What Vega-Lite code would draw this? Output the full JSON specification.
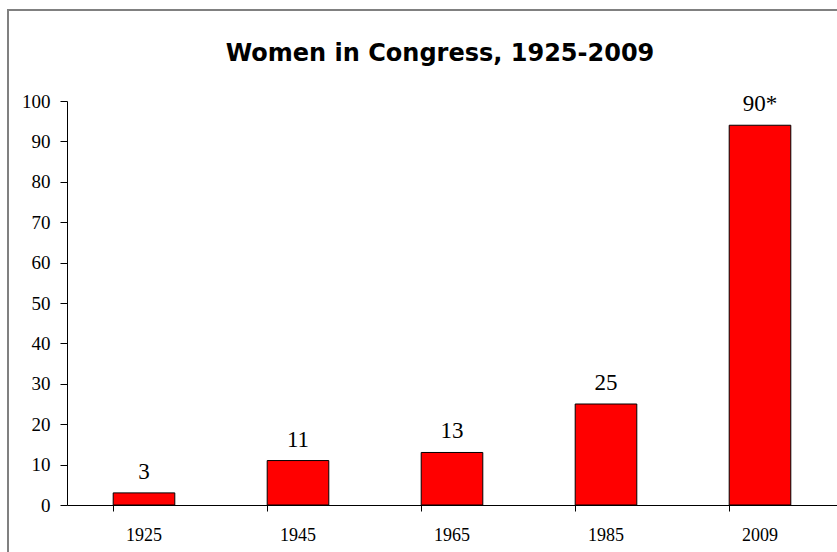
{
  "$schema": "https://vega.github.io/schema/vega-lite/v6.json",
  "width": 840,
  "height": 560,
  "autosize": {"type": "none"},
  "padding": {"left": 8, "top": 10, "right": 0, "bottom": 0},
  "background": "white",
  "title": {
    "text": "Women in Congress, 1925-2009",
    "font": "DejaVu Sans",
    "fontSize": 24,
    "fontWeight": "bold",
    "color": "black",
    "anchor": "middle",
    "frame": "group",
    "baseline": "alphabetic",
    "dy": 79,
    "dx": 12
  },
  "config": {
    "view": {"stroke": "#808080", "strokeWidth": 2},
    "axis": {"grid": false}
  },
  "data": {
    "values": [
      {"year": "1925", "women": 3, "label": "3"},
      {"year": "1945", "women": 11, "label": "11"},
      {"year": "1965", "women": 13, "label": "13"},
      {"year": "1985", "women": 25, "label": "25"},
      {"year": "2009", "women": 94, "label": "90*"}
    ]
  },
  "encoding": {
    "x": {
      "field": "year",
      "type": "nominal",
      "sort": null,
      "scale": {"range": [59, 829], "paddingInner": 0.6, "paddingOuter": 0.3},
      "axis": {
        "title": null,
        "orient": "bottom",
        "offset": -65,
        "labelAngle": 0,
        "labelFont": "Liberation Serif",
        "labelFontSize": 18,
        "labelColor": "black",
        "labelPadding": 15,
        "domainColor": "black",
        "tickColor": "black",
        "tickSize": 6,
        "bandPosition": 0
      }
    },
    "y": {
      "field": "women",
      "type": "quantitative",
      "scale": {"domain": [0, 100], "range": [495, 91], "nice": false},
      "axis": {
        "title": null,
        "orient": "left",
        "offset": -59,
        "values": [0, 10, 20, 30, 40, 50, 60, 70, 80, 90, 100],
        "labelFont": "Liberation Serif",
        "labelFontSize": 19,
        "labelColor": "black",
        "labelPadding": 10,
        "domainColor": "black",
        "tickColor": "black",
        "tickSize": 7
      }
    }
  },
  "layer": [
    {
      "mark": {"type": "bar", "fill": "#FF0000", "stroke": "black", "strokeWidth": 1}
    },
    {
      "mark": {"type": "text", "baseline": "alphabetic", "dy": -14, "font": "Liberation Serif", "fontSize": 23, "color": "black"},
      "encoding": {"text": {"field": "label"}}
    }
  ]
}
